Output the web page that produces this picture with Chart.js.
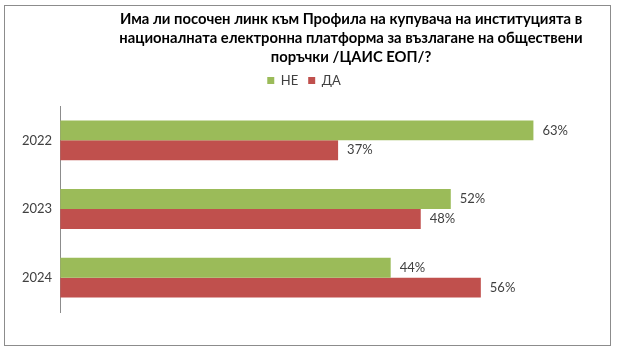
<!DOCTYPE html>
<html lang="bg">
<head>
<meta charset="UTF-8">
<title>Профил на купувача в ЦАИС ЕОП</title>
<script src="https://cdn.jsdelivr.net/npm/chart.js"></script>
<style>
    body { margin: 0; background: #fff; }
    #frame {
        position: absolute; left: 4px; top: 5px;
        width: 607px; height: 341px;
        border: 1px solid #8c8c8c; box-sizing: border-box;
    }
    #answersChart { display: block; }
</style>
</head>
<body>
<div id="frame">
    <canvas id="answersChart" width="605" height="339"></canvas>
</div>
<script>
    const years = ['2022', '2023', '2024'];
    const noValues = [63, 52, 44];
    const yesValues = [37, 48, 56];
    const titleLines = [
        'Има ли посочен линк към Профила на купувача на институцията в',
        'националната електронна платформа за възлагане на обществени',
        'поръчки /ЦАИС ЕОП/?'
    ];

    const FONT = 'Lato, "Open Sans", sans-serif';

    // Bold title is drawn by hand so it can sit right of centre
    const titlePlugin = {
        id: 'titleLines',
        afterDraw(chart) {
            const ctx = chart.ctx;
            ctx.save();
            ctx.font = 'bold 14.8px ' + FONT;
            ctx.fillStyle = '#000';
            ctx.textAlign = 'center';
            ctx.textBaseline = 'middle';
            titleLines.forEach((line, i) => {
                ctx.fillText(line, 346, 13 + i * 19);
            });
            ctx.restore();
        }
    };

    // extra space under the legend before the bars start
    const legendGap = {
        id: 'legendGap',
        beforeInit(chart) {
            const fit = chart.legend.fit;
            chart.legend.fit = function () {
                fit.bind(chart.legend)();
                this.height += 9;
            };
        }
    };

    // Percent labels at the end of every bar
    const valueLabels = {
        id: 'valueLabels',
        afterDatasetsDraw(chart) {
            const ctx = chart.ctx;
            ctx.save();
            ctx.font = '13px ' + FONT;
            ctx.fillStyle = '#404040';
            ctx.textBaseline = 'middle';
            chart.data.datasets.forEach((ds, i) => {
                chart.getDatasetMeta(i).data.forEach((bar, j) => {
                    ctx.fillText(ds.data[j] + '%', bar.x + 9, bar.y);
                });
            });
            ctx.restore();
        }
    };

    new Chart(document.getElementById('answersChart'), {
        type: 'bar',
        data: {
            labels: years,
            datasets: [
                { label: 'НЕ', data: noValues, backgroundColor: '#9bbb59' },
                { label: 'ДА', data: yesValues, backgroundColor: '#c0504d' }
            ]
        },
        options: {
            indexAxis: 'y',
            responsive: false,
            animation: false,
            layout: { padding: { top: 58, right: 24, bottom: 33, left: 17 } },
            datasets: { bar: { categoryPercentage: 0.58, barPercentage: 1 } },
            scales: {
                x: { min: 0, max: 70, display: false },
                y: {
                    grid: { display: false },
                    border: { display: true, color: '#8c8c8c', width: 1 },
                    ticks: { font: { family: FONT, size: 13 }, color: '#404040', padding: 0 }
                }
            },
            plugins: {
                legend: {
                    labels: {
                        boxWidth: 7, boxHeight: 7, padding: 10,
                        font: { family: FONT, size: 13 }, color: '#404040'
                    }
                },
                tooltip: { enabled: false }
            }
        },
        plugins: [titlePlugin, legendGap, valueLabels]
    });
</script>
</body>
</html>
